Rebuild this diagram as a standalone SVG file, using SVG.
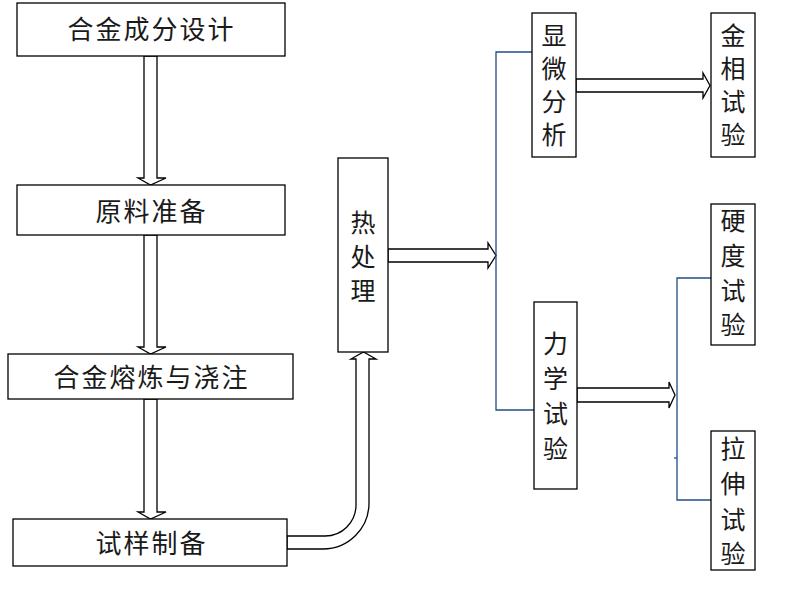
<svg xmlns="http://www.w3.org/2000/svg" width="811" height="616" viewBox="0 0 811 616">
<style>
.box{fill:#fff;stroke:#000;stroke-width:1.3}
.t{font-family:"Noto Sans CJK SC","Noto Sans",sans-serif;font-size:26px;fill:#1a1a1a;text-anchor:middle;dominant-baseline:central}
.c{font-family:"Noto Sans CJK SC","Noto Sans",sans-serif;font-size:25px;fill:#1a1a1a;text-anchor:middle;dominant-baseline:central}
.ar{fill:#fff;stroke:#000;stroke-width:1.3;stroke-linejoin:miter}
.bl{fill:none;stroke:#1f4e89;stroke-width:1.3}
</style>
<rect width="811" height="616" fill="#fff"/>
<g id="connectors">
<polygon class="ar" points="144,56 157,56 157,178 166,178 150.5,185 138,178 144,178"/>
<polygon class="ar" points="144,235 157,235 157,347 166,347 150.5,354 138,347 144,347"/>
<polygon class="ar" points="144,399 157,399 157,512 166,512 150.5,519 138,512 144,512"/>
<path class="ar" d="M287,549 L323,549 A46,46 0 0 0 369,503 L369,359 L376,359 L363.5,352 L351,359 L356,359 L356,505 A31,31 0 0 1 325,536 L287,536 Z"/>
<polygon class="ar" points="388,249 488,249 488,243 496,255.5 488,268 488,262 388,262"/>
<polygon class="ar" points="576,79 703,79 703,73 710,85.5 703,98 703,92 576,92"/>
<polygon class="ar" points="577,388 669,388 669,382 675,395 669,408 669,402 577,402"/>
<polyline class="bl" points="532,52 496,52 496,410 534,410"/>
<polyline class="bl" points="711,278 677,278 677,500 711,500"/>
<line class="bl" x1="674" y1="458" x2="677" y2="458"/>
</g>
<g id="n1"><rect class="box" x="17" y="3" width="268" height="53"/><text class="t" x="151.5" y="27" letter-spacing="2">合金成分设计</text></g>
<g id="n2"><rect class="box" x="17" y="185" width="268" height="50"/><text class="t" x="151.5" y="209" letter-spacing="2">原料准备</text></g>
<g id="n3"><rect class="box" x="8" y="354" width="285" height="45"/><text class="t" x="151.5" y="375" letter-spacing="2">合金熔炼与浇注</text></g>
<g id="n4"><rect class="box" x="13" y="519" width="274" height="47"/><text class="t" x="151.5" y="541" letter-spacing="2">试样制备</text></g>
<g id="n5"><rect class="box" x="338" y="158" width="50" height="194"/>
<text class="c" x="363" y="221">热</text><text class="c" x="363" y="255">处</text><text class="c" x="363" y="289">理</text></g>
<g id="n6"><rect class="box" x="532" y="13" width="44" height="144"/>
<text class="c" x="554" y="34">显</text><text class="c" x="554" y="67">微</text><text class="c" x="554" y="100">分</text><text class="c" x="554" y="133">析</text></g>
<g id="n7"><rect class="box" x="534" y="302" width="43" height="187"/>
<text class="c" x="555.5" y="342">力</text><text class="c" x="555.5" y="377">学</text><text class="c" x="555.5" y="412">试</text><text class="c" x="555.5" y="447">验</text></g>
<g id="n8"><rect class="box" x="711" y="13" width="44" height="144"/>
<text class="c" x="733" y="34">金</text><text class="c" x="733" y="67">相</text><text class="c" x="733" y="100">试</text><text class="c" x="733" y="133">验</text></g>
<g id="n9"><rect class="box" x="711" y="204" width="44" height="141"/>
<text class="c" x="733" y="219">硬</text><text class="c" x="733" y="254">度</text><text class="c" x="733" y="289">试</text><text class="c" x="733" y="323">验</text></g>
<g id="n10"><rect class="box" x="711" y="431" width="44" height="139"/>
<text class="c" x="733" y="447">拉</text><text class="c" x="733" y="482">伸</text><text class="c" x="733" y="518">试</text><text class="c" x="733" y="552">验</text></g>
</svg>
